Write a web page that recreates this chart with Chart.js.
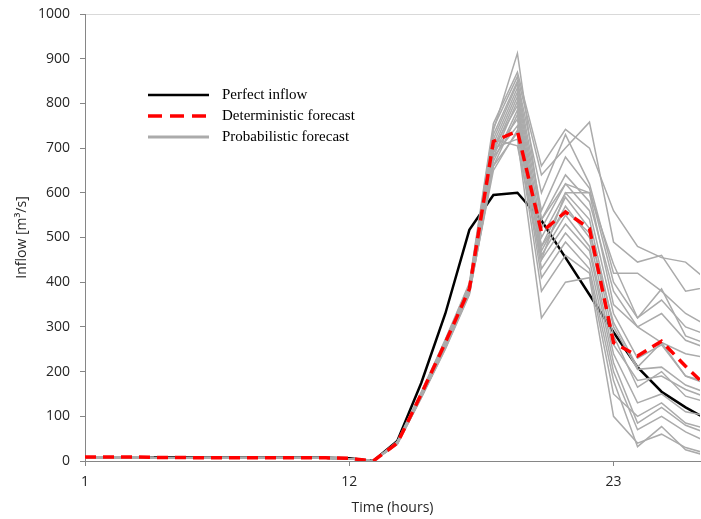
<!DOCTYPE html>
<html>
<head>
<meta charset="utf-8">
<title>Inflow forecast</title>
<script src="https://cdn.jsdelivr.net/npm/chart.js@4.4.1/dist/chart.umd.min.js"></script>
<style>
  html, body { margin: 0; padding: 0; background: #fff; }
  #wrap { width: 701px; height: 519px; }
</style>
</head>
<body>
<div id="wrap"><canvas id="inflowChart" width="701" height="519"></canvas></div>
<script>
// hours 1..27 (the plot is cut a bit before 27)
const hours = [1, 2, 3, 4, 5, 6, 7, 8, 9, 10, 11, 12, 13, 14, 15, 16, 17, 18, 19, 20, 21, 22, 23, 24, 25, 26, 27];
const xTickLabels = [1, 12, 23];

const perfectInflow = [8, 8, 8, 8, 8, 7, 7, 7, 7, 7, 7, 6, 0, 45, 175, 330, 517, 595, 600, 538, 455, 372, 288, 210, 155, 120, 90];
const deterministic = [9, 9, 9, 8, 8, 7, 7, 7, 7, 7, 7, 6, 0, 40, 150, 265, 385, 715, 738, 512, 557, 520, 265, 235, 268, 212, 160];

// ensemble members, hours 1..27
const probabilistic = [
  [8, 8, 8, 7, 7, 7, 7, 6, 6, 6, 6, 5, 0, 42, 152, 268, 392, 740, 912, 540, 620, 600, 440, 320, 360, 300, 280],
  [8, 8, 8, 7, 7, 7, 7, 6, 6, 6, 6, 5, 0, 44, 155, 272, 398, 755, 870, 660, 742, 700, 560, 480, 455, 445, 400],
  [8, 8, 8, 7, 7, 7, 7, 6, 6, 6, 6, 5, 0, 43, 153, 270, 395, 745, 860, 640, 700, 758, 490, 445, 460, 380, 390],
  [8, 8, 8, 7, 7, 7, 7, 6, 6, 6, 6, 5, 0, 42, 150, 266, 390, 730, 850, 600, 730, 620, 420, 420, 380, 330, 300],
  [8, 8, 8, 7, 7, 7, 7, 6, 6, 6, 6, 5, 0, 41, 148, 262, 386, 720, 845, 560, 680, 610, 400, 320, 385, 280, 260],
  [8, 8, 8, 7, 7, 7, 7, 6, 6, 6, 6, 5, 0, 40, 147, 260, 384, 710, 835, 540, 640, 580, 380, 300, 265, 240, 230],
  [8, 8, 8, 7, 7, 7, 7, 6, 6, 6, 6, 5, 0, 40, 146, 258, 382, 700, 825, 520, 620, 560, 330, 230, 260, 190, 170],
  [8, 8, 8, 7, 7, 7, 7, 6, 6, 6, 6, 5, 0, 39, 145, 257, 380, 690, 815, 500, 600, 540, 300, 205, 210, 170, 150],
  [8, 8, 8, 7, 7, 7, 7, 6, 6, 6, 6, 5, 0, 39, 144, 255, 378, 680, 805, 480, 590, 520, 280, 165, 200, 145, 130],
  [8, 8, 8, 7, 7, 7, 7, 6, 6, 6, 6, 5, 0, 41, 149, 263, 388, 700, 795, 470, 570, 500, 260, 180, 190, 160, 140],
  [8, 8, 8, 7, 7, 7, 7, 6, 6, 6, 6, 5, 0, 38, 143, 253, 376, 670, 785, 460, 550, 480, 240, 130, 150, 110, 100],
  [8, 8, 8, 7, 7, 7, 7, 6, 6, 6, 6, 5, 0, 38, 142, 252, 374, 660, 775, 450, 530, 470, 220, 85, 120, 80, 60],
  [8, 8, 8, 7, 7, 7, 7, 6, 6, 6, 6, 5, 0, 40, 146, 259, 383, 690, 765, 430, 510, 450, 200, 70, 100, 65, 40],
  [8, 8, 8, 7, 7, 7, 7, 6, 6, 6, 6, 5, 0, 39, 145, 256, 380, 680, 750, 410, 490, 430, 180, 32, 77, 25, 10],
  [8, 8, 8, 7, 7, 7, 7, 6, 6, 6, 6, 5, 0, 37, 141, 250, 372, 660, 735, 380, 460, 420, 150, 100, 130, 85, 70],
  [8, 8, 8, 7, 7, 7, 7, 6, 6, 6, 6, 5, 0, 41, 149, 264, 389, 700, 720, 320, 400, 410, 100, 40, 60, 30, 15],
  [8, 8, 8, 7, 7, 7, 7, 6, 6, 6, 6, 5, 0, 42, 151, 267, 393, 720, 705, 450, 600, 600, 350, 300, 330, 270, 250],
  [8, 8, 8, 7, 7, 7, 7, 6, 6, 6, 6, 5, 0, 38, 143, 254, 377, 650, 740, 480, 560, 510, 310, 210, 265, 190, 175]
];

const legendItems = ['Perfect inflow', 'Deterministic forecast', 'Probabilistic forecast'];

const GREY = '#ababab';
const RED = '#ff0000';

function toPoints(values) {
    return values.map(function(v, i) { return { x: hours[i], y: v }; });
}

const datasets = [];
datasets.push({
    label: legendItems[1],
    data: toPoints(deterministic),
    borderColor: RED,
    borderWidth: 3.5,
    borderDash: [11, 7],
    order: 0
});
probabilistic.forEach(function(member, i) {
    datasets.push({
        label: legendItems[2] + ' ' + (i + 1),
        data: toPoints(member),
        borderColor: GREY,
        borderWidth: 1.5,
        order: 1
    });
});
datasets.push({
    label: legendItems[0],
    data: toPoints(perfectInflow),
    borderColor: '#000000',
    borderWidth: 2.5,
    order: 2
});

// legend drawn inside the plot, like the original
const insideLegend = {
    id: 'insideLegend',
    afterDraw(chart) {
        const ctx = chart.ctx;
        const area = chart.chartArea;
        const styles = [
            { color: '#000000', width: 2.5, dash: [] },
            { color: RED, width: 3.5, dash: [14, 8] },
            { color: GREY, width: 3, dash: [] }
        ];
        ctx.save();
        ctx.font = '15px "Liberation Serif", "Times New Roman", serif';
        ctx.textBaseline = 'middle';
        ctx.fillStyle = '#000';
        legendItems.forEach(function(text, i) {
            const y = area.top + 81 + i * 21;
            const s = styles[i];
            ctx.beginPath();
            ctx.setLineDash(s.dash);
            ctx.strokeStyle = s.color;
            ctx.lineWidth = s.width;
            ctx.moveTo(area.left + 63, y);
            ctx.lineTo(area.left + 124, y);
            ctx.stroke();
            ctx.setLineDash([]);
            ctx.fillText(text, area.left + 137, y);
        });
        ctx.restore();
    }
};

const ctx = document.getElementById('inflowChart').getContext('2d');
new Chart(ctx, {
    type: 'line',
    data: { datasets: datasets },
    options: {
        responsive: false,
        animation: false,
        layout: { padding: { top: 14, right: 1, left: 0, bottom: 0 } },
        elements: {
            point: { radius: 0 },
            line: { tension: 0, fill: false }
        },
        plugins: {
            legend: { display: false },
            tooltip: { enabled: false }
        },
        scales: {
            x: {
                type: 'linear',
                min: 1,
                max: 26.6,
                afterFit: function(scale) {
                    scale.height = 58;
                    scale.paddingLeft = 0;
                    scale.paddingRight = 0;
                },
                afterBuildTicks: function(scale) {
                    scale.ticks = xTickLabels.map(function(v) { return { value: v }; });
                },
                grid: { drawOnChartArea: false, color: '#868686', tickLength: 5 },
                border: { color: '#868686', width: 1 },
                ticks: {
                    color: '#262626',
                    padding: 8,
                    maxRotation: 0,
                    callback: function(v) { return String(v); },
                    font: { family: '"Open Sans", sans-serif', size: 14 }
                },
                title: {
                    display: true,
                    text: 'Time (hours)',
                    color: '#262626',
                    padding: { top: 0, bottom: 3 },
                    font: { family: '"Open Sans", sans-serif', size: 14 }
                }
            },
            y: {
                min: 0,
                max: 1000,
                afterFit: function(scale) {
                    scale.width = 85;
                    scale.paddingTop = 0;
                    scale.paddingBottom = 0;
                },
                grid: {
                    color: function(c) { return c.tick && c.tick.value === 1000 ? '#d9d9d9' : 'rgba(0,0,0,0)'; },
                    tickColor: '#868686',
                    tickLength: 5
                },
                border: { color: '#868686', width: 1 },
                ticks: {
                    stepSize: 100,
                    color: '#262626',
                    padding: 10,
                    callback: function(v) { return String(v); },
                    font: { family: '"Open Sans", sans-serif', size: 14 }
                },
                title: {
                    display: true,
                    text: 'Inflow [m³/s]',
                    color: '#262626',
                    padding: { top: 14, bottom: 0 },
                    font: { family: '"Open Sans", sans-serif', size: 14 }
                }
            }
        }
    },
    plugins: [insideLegend]
});
</script>
</body>
</html>
